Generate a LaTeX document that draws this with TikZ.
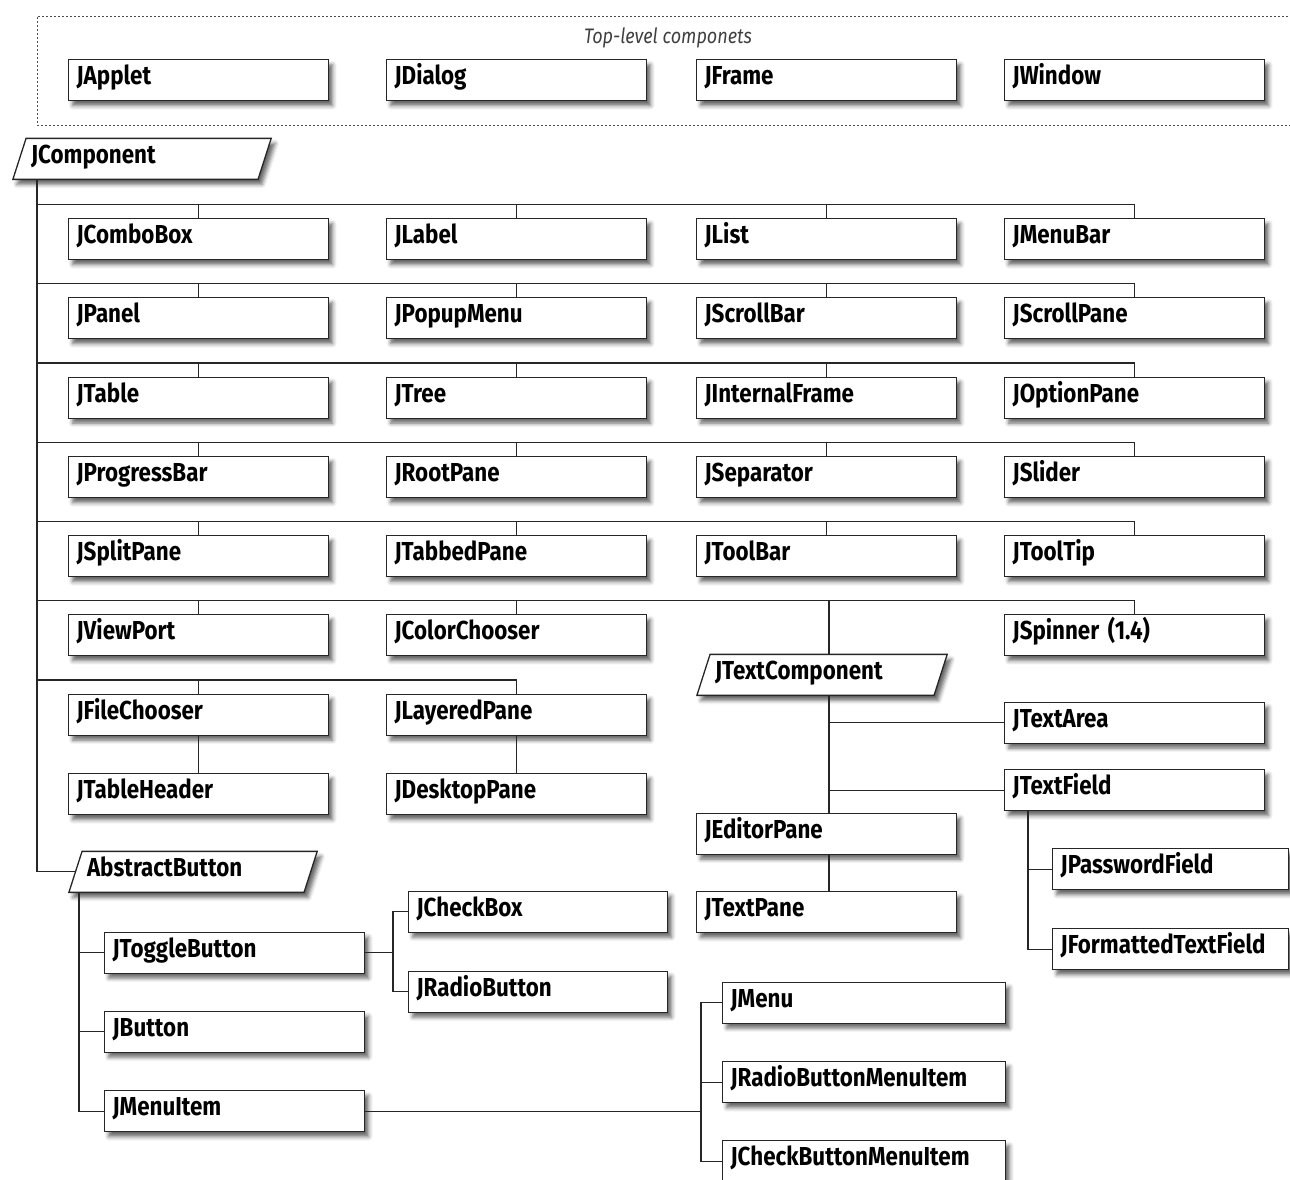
\documentclass[tikz,border=0pt]{standalone}
\usepackage{fontspec}
\setmainfont[FakeStretch=0.86]{Fira Sans}
\usetikzlibrary{shapes.geometric,shadows.blur}

\tikzset{
  cls/.style={draw=black!85, line width=1.3pt, fill=white, anchor=north west,
    text width=244pt, inner xsep=8pt, inner ysep=2pt, minimum height=41pt,
    text height=18pt, text depth=9pt, align=left,
    font=\fontsize{26}{30}\selectfont\bfseries,
    blur shadow={shadow xshift=4pt, shadow yshift=-5pt, shadow blur radius=4pt, shadow opacity=60}},
  wide/.style={text width=267pt},
  cut/.style={text width=220pt},
  abs/.style={cls, trapezium, trapezium stretches=true, anchor=bottom left corner,
    trapezium left angle=67, trapezium right angle=113, inner xsep=5pt, text width=214pt},
  link/.style={draw=black!85, line width=1.1pt},
  frame/.style={draw=black!70, line width=0.9pt, dash pattern=on 2pt off 2pt}
}

\begin{document}
\begin{tikzpicture}[x=1pt,y=-1pt]
  \useasboundingbox (0,0) rectangle (1290,1179);
  % Top-level frame
  \draw[frame] (1300,16) -- (37,16) -- (37,125) -- (1300,125);
  \node[font=\itshape\fontsize{21}{24}\selectfont, text=black!75] (toplabel) at (668,38) {Top-level componets};
  \node[cls] (japplet) at (68,59) {JApplet};
  \node[cls] (jdialog) at (386,59) {JDialog};
  \node[cls] (jframe) at (696,59) {JFrame};
  \node[cls] (jwindow) at (1004,59) {JWindow};
  % JComponent and its grid
  \node[abs, text width=222pt] (jcomp) at (12,180) {JComponent};
  \node[cls] (jcombo) at (68,218) {JComboBox};
  \node[cls] (jlabel) at (386,218) {JLabel};
  \node[cls] (jlist) at (696,218) {JList};
  \node[cls] (jmenubar) at (1004,218) {JMenuBar};
  \node[cls] (jpanel) at (68,297) {JPanel};
  \node[cls] (jpopup) at (386,297) {JPopupMenu};
  \node[cls] (jscrollbar) at (696,297) {JScrollBar};
  \node[cls] (jscrollpane) at (1004,297) {JScrollPane};
  \node[cls] (jtable) at (68,376.5) {JTable};
  \node[cls] (jtree) at (386,376.5) {JTree};
  \node[cls] (jinternal) at (696,376.5) {JInternalFrame};
  \node[cls] (joption) at (1004,376.5) {JOptionPane};
  \node[cls] (jprogress) at (68,456) {JProgressBar};
  \node[cls] (jroot) at (386,456) {JRootPane};
  \node[cls] (jseparator) at (696,456) {JSeparator};
  \node[cls] (jslider) at (1004,456) {JSlider};
  \node[cls] (jsplit) at (68,535) {JSplitPane};
  \node[cls] (jtabbed) at (386,535) {JTabbedPane};
  \node[cls] (jtoolbar) at (696,535) {JToolBar};
  \node[cls] (jtooltip) at (1004,535) {JToolTip};
  \node[cls] (jviewport) at (68,614) {JViewPort};
  \node[cls] (jcolor) at (386,614) {JColorChooser};
  \node[cls] (jspinner) at (1004,614) {JSpinner (1.4)};
  \node[cls] (jfile) at (68,693.5) {JFileChooser};
  \node[cls] (jlayered) at (386,693.5) {JLayeredPane};
  \node[cls] (jheader) at (68,773) {JTableHeader};
  \node[cls] (jdesktop) at (386,773) {JDesktopPane};
  % Text components
  \node[abs] (jtextcomp) at (696,696) {JTextComponent};
  \node[cls] (jtextarea) at (1004,701.5) {JTextArea};
  \node[cls] (jtextfield) at (1004,769) {JTextField};
  \node[cls] (jeditor) at (696,812.5) {JEditorPane};
  \node[cls] (jtextpane) at (696,891) {JTextPane};
  \node[cls, cut] (jpassword) at (1052,848) {JPasswordField};
  \node[cls, cut] (jformatted) at (1052,928) {JFormattedTextField};
  % Buttons
  \node[abs, text width=212pt] (abstract) at (68,893) {AbstractButton};
  \node[cls] (jtoggle) at (104,931.5) {JToggleButton};
  \node[cls] (jbutton) at (104,1010.5) {JButton};
  \node[cls] (jmenuitem) at (104,1090) {JMenuItem};
  \node[cls, text width=243pt] (jcheckbox) at (408,890.5) {JCheckBox};
  \node[cls, text width=243pt] (jradio) at (408,970.5) {JRadioButton};
  \node[cls, wide] (jmenu) at (722,981.5) {JMenu};
  \node[cls, wide] (jradiomenu) at (722,1061) {JRadioButtonMenuItem};
  \node[cls, wide] (jcheckmenu) at (722,1140) {JCheckButtonMenuItem};
  % Trunk and buses
  \coordinate (t0) at (37,0);
  \coordinate (tc) at (829,0);
  \draw[link] (t0 |- jcomp.south) |- (abstract.west);
  \draw[link] (jcombo.north) -- ++(0,-13.5) coordinate (r1) (jlabel.north) -- (jlabel.north |- r1)
    (jlist.north) -- (jlist.north |- r1) (t0 |- r1) -| (jmenubar.north);
  \draw[link] (jpanel.north) -- ++(0,-13.5) coordinate (r2) (jpopup.north) -- (jpopup.north |- r2)
    (jscrollbar.north) -- (jscrollbar.north |- r2) (t0 |- r2) -| (jscrollpane.north);
  \draw[link] (jtable.north) -- ++(0,-13.5) coordinate (r3) (jtree.north) -- (jtree.north |- r3)
    (jinternal.north) -- (jinternal.north |- r3) (t0 |- r3) -| (joption.north);
  \draw[link] (jprogress.north) -- ++(0,-13.5) coordinate (r4) (jroot.north) -- (jroot.north |- r4)
    (jseparator.north) -- (jseparator.north |- r4) (t0 |- r4) -| (jslider.north);
  \draw[link] (jsplit.north) -- ++(0,-13.5) coordinate (r5) (jtabbed.north) -- (jtabbed.north |- r5)
    (jtoolbar.north) -- (jtoolbar.north |- r5) (t0 |- r5) -| (jtooltip.north);
  \draw[link] (jviewport.north) -- ++(0,-13.5) coordinate (r6) (jcolor.north) -- (jcolor.north |- r6)
    (tc |- r6) -- (tc |- jtextcomp.north) (t0 |- r6) -| (jspinner.north);
  \draw[link] (jfile.north) -- ++(0,-13.5) coordinate (r7) (t0 |- r7) -| (jlayered.north);
  \draw[link] (jfile.south) -- (jheader.north);
  \draw[link] (jlayered.south) -- (jdesktop.north);
  % Text component links
  \draw[link] (tc |- jtextcomp.south) -- (tc |- jeditor.north);
  \draw[link] (tc |- jtextarea.west) -- (jtextarea.west);
  \draw[link] (tc |- jtextfield.west) -- (jtextfield.west);
  \draw[link] (tc |- jeditor.south) -- (tc |- jtextpane.north);
  \coordinate (tf) at (1028,0);
  \draw[link] (tf |- jtextfield.south) |- (jformatted.west);
  \draw[link] (tf |- jpassword.west) -- (jpassword.west);
  % Button links
  \coordinate (ab) at (79,0);
  \draw[link] (ab |- abstract.south) |- (jmenuitem.west);
  \draw[link] (ab |- jtoggle.west) -- (jtoggle.west);
  \draw[link] (ab |- jbutton.west) -- (jbutton.west);
  \coordinate (tg) at (393,0);
  \draw[link] (jtoggle.east) -- (tg |- jtoggle.east);
  \draw[link] (jcheckbox.west) -| (tg |- jradio.west) -- (jradio.west);
  \coordinate (mi) at (701,0);
  \draw[link] (jmenuitem.east) -- (mi |- jmenuitem.east);
  \draw[link] (jmenu.west) -| (mi |- jcheckmenu.west) -- (jcheckmenu.west);
  \draw[link] (mi |- jradiomenu.west) -- (jradiomenu.west);
\end{tikzpicture}
\end{document}
